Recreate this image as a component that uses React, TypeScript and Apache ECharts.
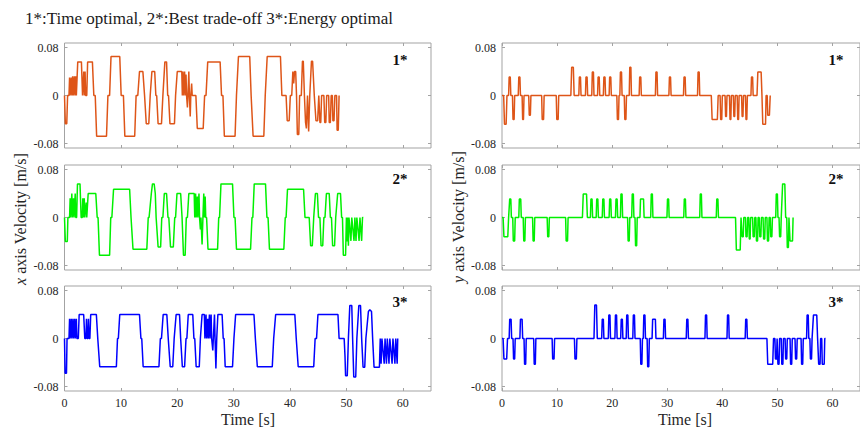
import React, { useEffect, useRef } from "react";
import * as echarts from "echarts";

// ---- data (time [s], velocity [m/s]) ----
const xTimeOptimal: number[][] = [
  [0,0],[0.15,-0.047],[0.4,-0.047],[0.55,0],[0.8,0],[0.9,0.03],[1.0,0],[1.2,0.03],[1.3,0],[1.45,0.032],[1.55,0],[1.75,0.032],[1.85,0],[2.0,0.032],[2.1,0],[2.2,0],[2.35,0.056],[3.0,0.056],[3.2,0],[3.3,0],[3.42,0.04],[3.52,0],[3.65,0.04],[3.75,0],[3.95,0],[4.1,0.056],[4.95,0.056],[5.2,0],[5.45,0],[5.7,-0.068],[7.45,-0.068],[7.7,0],[8.0,0],[8.25,0.065],[9.8,0.065],[10.05,0],[10.45,0],[10.7,-0.068],[12.45,-0.068],[12.7,0],[13.0,0],[13.3,0.04],[13.9,0.04],[14.2,0],[14.3,0],[14.5,-0.047],[14.95,-0.047],[15.2,0],[15.3,0],[15.5,0.04],[16.0,0.04],[16.2,0],[16.35,0],[16.6,-0.047],[17.2,-0.047],[17.45,0],[17.55,0],[17.8,0.056],[18.1,0.056],[18.3,0],[18.45,0],[18.7,-0.047],[19.5,-0.047],[19.7,0],[19.8,0],[20.0,0.04],[20.8,0.04],[20.9,0],[21.0,0.04],[21.1,0],[21.3,0.04],[21.4,0],[21.55,0.035],[21.65,0],[21.8,-0.02],[21.9,0],[22.05,0.04],[22.15,0],[22.3,-0.035],[22.4,0],[22.55,0.02],[22.65,0],[23.3,0],[23.55,-0.055],[24.6,-0.055],[24.85,0],[25.1,0],[25.4,0.056],[27.6,0.056],[27.85,0],[28.1,0],[28.35,-0.068],[30.25,-0.068],[30.5,0],[30.6,0],[30.85,0.065],[32.85,0.065],[33.1,0],[33.2,0],[33.45,-0.068],[35.35,-0.068],[35.6,0],[35.7,0],[35.95,0.065],[38.3,0.065],[38.55,0],[39.3,0],[39.5,-0.042],[39.85,-0.042],[40.05,0],[40.3,0],[40.5,0.04],[40.65,0.02],[40.8,0.04],[41.0,0.04],[41.15,0],[41.3,-0.065],[41.55,-0.065],[41.7,0],[42.0,0],[42.2,0.057],[42.35,0.057],[42.55,0],[42.75,-0.045],[42.9,-0.055],[43.1,0],[43.3,-0.06],[43.5,0],[43.8,0.057],[44.0,0.057],[44.3,0],[44.6,-0.042],[44.9,-0.042],[45.1,0],[45.3,-0.045],[45.45,-0.045],[45.6,0],[46.0,0],[46.15,-0.045],[46.35,-0.045],[46.5,0],[46.85,0],[46.95,-0.045],[47.15,-0.045],[47.3,0],[47.5,0],[47.6,-0.042],[47.8,-0.042],[47.95,0],[48.25,0],[48.35,-0.058],[48.55,-0.058],[48.7,0]
];
const xTradeOff: number[][] = [
  [0,0],[0.15,-0.04],[0.5,-0.04],[0.6,0],[0.9,0],[1.0,0.032],[1.1,0],[1.3,0.04],[1.4,0],[1.6,0.032],[1.7,0],[1.9,0.04],[2.0,0],[2.15,0],[2.3,0.056],[2.75,0.056],[2.95,0],[3.15,0],[3.25,0.032],[3.35,0],[3.5,0.032],[3.6,0],[3.85,0.025],[3.95,0],[4.05,0],[4.2,0.04],[5.55,0.04],[5.8,0],[5.95,0],[6.2,-0.063],[8.0,-0.063],[8.2,0],[8.4,0],[8.7,0.047],[11.55,0.047],[11.8,0],[11.9,0],[12.15,-0.053],[14.6,-0.053],[14.85,0],[15.0,0],[15.4,0.04],[15.6,0.056],[15.9,0.056],[16.1,0.04],[16.25,0],[16.35,0],[16.6,-0.049],[17.05,-0.049],[17.25,0],[17.45,0],[17.7,0.04],[18.1,0.04],[18.35,0],[18.5,0],[18.8,-0.049],[19.3,-0.049],[19.55,0],[19.7,0],[19.95,0.04],[20.6,0.04],[20.85,0],[20.9,0],[21.1,-0.063],[21.4,-0.063],[21.6,0],[21.8,0],[22.05,0.04],[23.0,0.04],[23.1,0],[23.25,0.04],[23.35,0],[23.55,0.035],[23.65,0],[23.85,0.04],[23.95,0],[24.1,-0.02],[24.2,0],[24.4,-0.045],[24.55,0],[24.7,0.04],[24.8,0],[24.95,0.035],[25.05,0],[25.2,0],[25.45,-0.053],[27.15,-0.053],[27.35,0],[27.5,0],[27.75,0.056],[29.8,0.056],[30.05,0],[30.25,0],[30.5,-0.053],[33.0,-0.053],[33.25,0],[33.4,0],[33.65,0.056],[35.65,0.056],[35.9,0],[36.1,0],[36.35,-0.053],[38.9,-0.053],[39.15,0],[39.3,0],[39.55,0.047],[42.4,0.047],[42.65,0],[43.4,0],[43.65,-0.047],[43.95,-0.047],[44.2,0],[44.3,0],[44.5,0.04],[44.85,0.04],[45.05,0],[45.3,0],[45.5,-0.047],[45.8,-0.047],[46.0,0],[46.2,0],[46.45,0.04],[46.95,0.04],[47.15,0],[47.35,0],[47.55,-0.047],[47.9,-0.047],[48.1,0],[48.2,0],[48.45,0.04],[48.95,0.04],[49.15,0],[49.3,0],[49.45,-0.063],[49.85,-0.063],[50.0,0],[50.1,-0.04],[50.2,0],[50.35,-0.047],[50.45,0],[50.8,-0.039],[50.95,0],[51.35,-0.039],[51.5,0],[51.7,-0.039],[51.85,0],[52.25,-0.039],[52.4,0],[52.7,-0.039],[52.85,0],[53.0,0]
];
const xEnergyOptimal: number[][] = [
  [0,0],[0.1,-0.058],[0.35,-0.058],[0.45,0],[0.8,0],[0.9,0.033],[1.0,0],[1.2,0.033],[1.3,0],[1.5,0.033],[1.6,0],[1.8,0.033],[1.9,0],[2.1,0.033],[2.2,0],[2.45,0],[2.6,0.04],[3.4,0.04],[3.6,0],[3.8,0],[3.9,0.033],[4.0,0],[4.15,0],[4.25,0.033],[4.35,0],[4.5,0],[4.65,0.04],[5.65,0.04],[5.9,0],[6.0,0],[6.25,-0.047],[9.2,-0.047],[9.4,0],[9.55,0],[9.8,0.04],[13.3,0.04],[13.55,0],[13.7,0],[13.95,-0.047],[16.75,-0.047],[17.0,0],[17.2,0],[17.5,0.04],[18.15,0.04],[18.4,0],[18.5,0],[18.75,-0.047],[19.2,-0.047],[19.45,0],[19.55,0],[19.8,0.04],[20.4,0.04],[20.6,0],[20.7,0],[20.9,-0.047],[21.3,-0.047],[21.55,0],[21.7,0],[21.95,0.04],[22.75,0.04],[22.95,0],[23.1,0],[23.35,-0.047],[23.9,-0.047],[24.1,0],[24.2,0],[24.4,0.04],[24.8,0.04],[24.9,0],[25.1,0.04],[25.2,0],[25.4,0.033],[25.5,0],[25.7,0.04],[25.8,0],[26.0,0.04],[26.1,0],[26.3,-0.02],[26.4,0],[26.6,0.04],[26.7,0],[26.85,-0.05],[27.0,0],[27.2,0.04],[27.95,0.04],[28.15,0],[28.3,0],[28.5,-0.047],[29.8,-0.047],[30.05,0],[30.1,0],[30.35,0.04],[33.6,0.04],[33.85,0],[33.95,0],[34.2,-0.047],[36.85,-0.047],[37.1,0],[37.2,0],[37.45,0.04],[40.85,0.04],[41.1,0],[41.2,0],[41.45,-0.047],[44.2,-0.047],[44.45,0],[44.7,0],[44.95,0.04],[48.5,0.04],[48.7,0],[49.6,0],[49.75,-0.03],[49.85,-0.062],[50.15,-0.062],[50.35,0],[50.6,0.055],[50.95,0.055],[51.1,0],[51.3,-0.064],[51.65,-0.064],[51.85,0],[52.2,0.055],[52.5,0.055],[52.7,0],[52.95,-0.048],[53.25,-0.048],[53.45,0],[53.9,0.045],[54.15,0.048],[54.45,0.045],[54.65,0],[54.9,-0.048],[55.85,-0.048],[56.0,0],[56.15,-0.042],[56.3,0],[56.7,-0.042],[56.85,0],[57.1,-0.042],[57.25,0],[57.55,-0.042],[57.7,0],[58.1,-0.042],[58.25,0],[58.6,-0.042],[58.75,0],[59.0,-0.042],[59.1,0]
];
const yTimeOptimal: number[][] = [
  [0,0],[0.3,0],[0.45,-0.048],[0.75,-0.048],[0.9,0],[1.2,0],[1.3,0.031],[1.5,0.031],[1.6,0],[1.9,0],[2.0,-0.04],[2.2,-0.04],[2.3,0],[2.95,0],[3.05,0.031],[3.25,0.031],[3.35,0],[3.65,0],[3.75,-0.04],[3.9,-0.04],[4.0,0],[4.85,0],[4.95,-0.033],[5.15,-0.033],[5.25,0],[7.2,0],[7.3,-0.04],[7.55,-0.04],[7.65,0],[9.85,0],[9.95,-0.04],[10.2,-0.04],[10.3,0],[12.5,0],[12.65,0.047],[12.95,0.047],[13.1,0],[13.95,0],[14.05,0.031],[14.25,0.031],[14.35,0],[15.15,0],[15.25,0.031],[15.45,0.031],[15.55,0],[16.3,0],[16.4,0.039],[16.6,0.039],[16.7,0],[17.35,0],[17.45,0.031],[17.65,0.031],[17.75,0],[18.4,0],[18.5,0.031],[18.7,0.031],[18.8,0],[19.45,0],[19.55,0.031],[19.75,0.031],[19.85,0],[20.85,0],[20.95,-0.04],[21.15,-0.04],[21.25,0],[21.4,0],[21.5,0.039],[21.7,0.039],[21.8,0],[22.2,0],[22.3,-0.04],[22.5,-0.04],[22.6,0],[23.1,0],[23.2,0.047],[23.4,0.047],[23.5,0],[24.9,0],[25.0,0.031],[25.2,0.031],[25.3,0],[27.85,0],[27.95,0.039],[28.15,0.039],[28.25,0],[30.3,0],[30.4,0.031],[30.6,0.031],[30.7,0],[32.95,0],[33.05,0.031],[33.25,0.031],[33.35,0],[35.5,0],[35.6,0.039],[35.8,0.039],[35.9,0],[38.0,0],[38.15,-0.04],[39.1,-0.04],[39.25,0],[39.6,0],[39.7,-0.04],[39.9,-0.04],[40.0,0],[40.5,0],[40.6,-0.035],[40.75,-0.035],[40.85,0],[41.3,0],[41.4,-0.04],[41.55,-0.04],[41.65,0],[42.0,0],[42.1,-0.035],[42.25,-0.035],[42.35,0],[42.7,0],[42.8,-0.04],[42.95,-0.04],[43.05,0],[43.5,0],[43.6,-0.035],[43.75,-0.035],[43.85,0],[44.2,0],[44.3,-0.04],[44.45,-0.04],[44.55,0],[45.2,0],[45.3,0.031],[45.5,0.031],[45.6,0],[46.3,0],[46.45,0.039],[47.05,0.039],[47.2,0],[47.35,-0.048],[47.85,-0.048],[47.95,0],[48.15,0],[48.25,-0.033],[48.55,-0.033],[48.7,0]
];
const yTradeOff: number[][] = [
  [0,0],[0.2,0],[0.35,-0.032],[1.05,-0.032],[1.2,0],[1.3,0],[1.4,0.031],[1.6,0.031],[1.7,0],[1.95,0],[2.05,-0.039],[2.3,-0.039],[2.4,0],[3.05,0],[3.15,0.031],[3.4,0.031],[3.5,0],[3.85,0],[3.95,-0.039],[4.15,-0.039],[4.25,0],[5.55,0],[5.65,-0.039],[5.85,-0.039],[5.95,0],[8.2,0],[8.3,-0.032],[8.5,-0.032],[8.6,0],[11.55,0],[11.65,-0.039],[11.9,-0.039],[12.0,0],[14.6,0],[14.75,0.039],[15.35,0.039],[15.5,0],[16.05,0],[16.15,0.031],[16.35,0.031],[16.45,0],[17.1,0],[17.2,0.031],[17.4,0.031],[17.5,0],[18.2,0],[18.3,0.031],[18.5,0.031],[18.6,0],[19.45,0],[19.55,0.031],[19.75,0.031],[19.85,0],[20.6,0],[20.7,0.031],[20.9,0.031],[21.0,0],[21.5,0],[21.6,0.039],[21.8,0.039],[21.9,0],[22.8,0],[22.9,-0.039],[23.1,-0.039],[23.2,0],[23.55,0],[23.65,0.039],[23.85,0.039],[23.95,0],[24.15,0],[24.25,-0.047],[24.45,-0.047],[24.55,0],[25.05,0],[25.15,0.031],[25.7,0.031],[25.8,0],[27.0,0],[27.1,0.039],[27.3,0.039],[27.4,0],[29.95,0],[30.05,0.031],[30.25,0.031],[30.35,0],[33.0,0],[33.1,0.031],[33.3,0.031],[33.4,0],[35.9,0],[36.0,0.039],[36.2,0.039],[36.3,0],[38.9,0],[39.0,0.031],[39.2,0.031],[39.3,0],[42.4,0],[42.55,-0.054],[43.25,-0.054],[43.4,0],[43.5,0],[43.6,-0.032],[43.8,-0.032],[43.9,0],[44.2,0],[44.3,-0.032],[44.5,-0.032],[44.6,0],[44.8,0],[44.9,-0.036],[45.05,-0.036],[45.15,0],[45.5,0],[45.6,-0.032],[45.8,-0.032],[45.9,0],[46.1,0],[46.2,-0.039],[46.4,-0.039],[46.5,0],[46.7,0],[46.8,-0.032],[47.0,-0.032],[47.1,0],[47.4,0],[47.5,-0.036],[47.7,-0.036],[47.8,0],[48.1,0],[48.2,-0.039],[48.4,-0.039],[48.5,0],[48.7,0],[48.8,-0.032],[49.0,-0.032],[49.1,0],[49.7,0],[49.8,0.039],[50.0,0.039],[50.1,0],[50.3,0],[50.4,-0.032],[50.6,-0.032],[50.7,0],[50.8,0],[50.95,0.056],[51.35,0.056],[51.5,0],[51.7,0],[51.8,-0.05],[52.0,-0.05],[52.1,0],[52.2,0],[52.3,-0.039],[52.75,-0.039],[52.85,0]
];
const yEnergyOptimal: number[][] = [
  [0,0],[0.2,0],[0.35,-0.034],[0.85,-0.034],[1.0,0],[1.3,0],[1.4,0.032],[1.65,0.032],[1.75,0],[2.0,0],[2.1,-0.034],[2.3,-0.034],[2.4,0],[3.25,0],[3.35,0.032],[3.65,0.032],[3.75,0],[4.0,0],[4.1,-0.043],[4.3,-0.043],[4.4,0],[5.75,0],[5.85,-0.043],[6.05,-0.043],[6.15,0],[9.1,0],[9.2,-0.034],[9.45,-0.034],[9.55,0],[13.15,0],[13.25,-0.034],[13.5,-0.034],[13.6,0],[16.7,0],[16.85,0.056],[17.15,0.056],[17.3,0],[18.1,0],[18.2,0.032],[18.4,0.032],[18.5,0],[19.3,0],[19.4,0.039],[19.6,0.039],[19.7,0],[20.5,0],[20.6,0.039],[20.8,0.039],[20.9,0],[21.55,0],[21.65,0.032],[21.85,0.032],[21.95,0],[22.55,0],[22.65,0.039],[22.85,0.039],[22.95,0],[23.75,0],[23.85,0.039],[24.05,0.039],[24.15,0],[25.1,0],[25.2,-0.043],[25.4,-0.043],[25.5,0],[25.65,0],[25.75,0.039],[25.95,0.039],[26.05,0],[26.35,0],[26.45,-0.047],[26.65,-0.047],[26.75,0],[27.25,0],[27.35,0.032],[27.85,0.032],[27.95,0],[29.3,0],[29.4,0.032],[29.6,0.032],[29.7,0],[33.45,0],[33.55,0.032],[33.75,0.032],[33.85,0],[36.85,0],[36.95,0.039],[37.15,0.039],[37.25,0],[40.85,0],[40.95,0.039],[41.15,0.039],[41.25,0],[44.15,0],[44.25,0.032],[44.45,0.032],[44.55,0],[48.1,0],[48.25,-0.043],[49.15,-0.043],[49.3,0],[49.55,0],[49.65,-0.034],[49.85,-0.034],[49.95,0],[50.0,0],[50.1,-0.043],[50.3,-0.043],[50.4,0],[50.7,0],[50.8,-0.043],[51.0,-0.043],[51.1,0],[51.4,0],[51.5,-0.034],[51.7,-0.034],[51.8,0],[52.3,0],[52.4,-0.043],[52.6,-0.043],[52.7,0],[53.2,0],[53.3,-0.034],[53.5,-0.034],[53.6,0],[54.3,0],[54.4,-0.043],[54.6,-0.043],[54.7,0],[55.3,0],[55.4,0.039],[55.6,0.039],[55.7,0],[55.9,0],[56.0,-0.034],[56.2,-0.034],[56.3,0],[56.4,0],[56.55,0.039],[57.15,0.039],[57.3,0],[57.5,-0.043],[57.75,-0.043],[57.85,0],[58.05,0],[58.15,-0.043],[58.5,-0.043],[58.6,0],[58.75,0]
];

const xTickValues = [0, 10, 20, 30, 40, 50, 60];
const yTickValues = [-0.08, 0, 0.08];
const panelTags = ["1*", "2*", "3*"];
const titleText = "1*:Time optimal, 2*:Best trade-off 3*:Energy optimal";

const panelData = [
  xTimeOptimal, yTimeOptimal,
  xTradeOff, yTradeOff,
  xEnergyOptimal, yEnergyOptimal,
];
const panelColors = ["#DE5518", "#DE5518", "#00F000", "#00F000", "#0000FF", "#0000FF"];

export default function App() {
  const ref = useRef<HTMLDivElement>(null);
  useEffect(() => {
    if (!ref.current) return;
    const chart = echarts.init(ref.current, undefined, { renderer: "svg" });
    const tops = [43, 165, 286];
    const H = 105;
    const cols = [{ left: 64.5, width: 366.5 }, { left: 502, width: 367 }];
    const FRAME = "#a3a3a3";
    const FONT = "Liberation Serif";
    const grids: any[] = [];
    const xAxes: any[] = [];
    const yAxes: any[] = [];
    const series: any[] = [];
    for (let row = 0; row < 3; row++) {
      for (let col = 0; col < 2; col++) {
        const p = row * 2 + col;
        grids.push({
          left: cols[col].left, width: cols[col].width, top: tops[row], height: H,
          show: true, borderColor: FRAME, borderWidth: 1, backgroundColor: "#fff",
        });
        const common = {
          type: "value", gridIndex: p, min: 0, max: 65,
          axisLine: { show: false, onZero: false },
          splitLine: { show: false },
        };
        xAxes.push({
          ...common, position: "bottom",
          axisTick: { show: true, inside: true, length: 3, lineStyle: { color: FRAME }, customValues: xTickValues },
          axisLabel: {
            show: row === 2, customValues: xTickValues, fontFamily: FONT, fontSize: 12,
            color: "#262626", margin: 6,
          },
        });
        xAxes.push({
          ...common, position: "top",
          axisTick: { show: true, inside: true, length: 3, lineStyle: { color: FRAME }, customValues: xTickValues },
          axisLabel: { show: false },
        });
        const ycommon = {
          type: "value", gridIndex: p, min: -0.0875, max: 0.0875,
          axisLine: { show: false, onZero: false }, splitLine: { show: false },
        };
        yAxes.push({
          ...ycommon, position: "left",
          axisTick: { show: true, inside: true, length: 3, lineStyle: { color: FRAME }, customValues: yTickValues },
          axisLabel: {
            show: true, customValues: yTickValues, fontFamily: FONT, fontSize: 12, color: "#262626", margin: 6,
            formatter: (v: number) => (Math.abs(v) < 1e-9 ? "0" : v.toFixed(2)),
          },
        });
        yAxes.push({
          ...ycommon, position: "right",
          axisTick: { show: true, inside: true, length: 3, lineStyle: { color: FRAME }, customValues: yTickValues },
          axisLabel: { show: false },
        });
        series.push({
          type: "line", xAxisIndex: p * 2, yAxisIndex: p * 2, data: panelData[p],
          showSymbol: false, symbol: "none", clip: true,
          lineStyle: { width: 1.5, color: panelColors[p] }, itemStyle: { color: panelColors[p] },
        });
      }
    }
    const centered = { align: "center", textAlign: "center", verticalAlign: "middle", textVerticalAlign: "middle" };
    const graphic: any[] = [
      {
        type: "text", x: 25, y: 18,
        style: { text: titleText, fontFamily: FONT, fontSize: 17, fill: "#1a1a1a", verticalAlign: "middle", textVerticalAlign: "middle" },
      },
      {
        type: "text", x: 20, y: 219, rotation: Math.PI / 2,
        style: {
          text: "{i|x} axis Velocity [m/s]", fontFamily: FONT, fontSize: 16, fill: "#262626", ...centered,
          rich: { i: { fontStyle: "italic", fontFamily: FONT, fontSize: 16, fill: "#262626" } },
        },
      },
      {
        type: "text", x: 458, y: 217, rotation: Math.PI / 2,
        style: {
          text: "{i|y} axis Velocity [m/s]", fontFamily: FONT, fontSize: 16, fill: "#262626", ...centered,
          rich: { i: { fontStyle: "italic", fontFamily: FONT, fontSize: 16, fill: "#262626" } },
        },
      },
      {
        type: "text", x: 248, y: 419,
        style: { text: "Time [s]", fontFamily: FONT, fontSize: 16, fill: "#262626", ...centered },
      },
      {
        type: "text", x: 685, y: 419,
        style: { text: "Time [s]", fontFamily: FONT, fontSize: 16, fill: "#262626", ...centered },
      },
    ];
    const tagX = [400, 836];
    const tagY = [60, 179, 302];
    for (let row = 0; row < 3; row++) {
      for (let col = 0; col < 2; col++) {
        graphic.push({
          type: "text", x: tagX[col], y: tagY[row],
          style: {
            text: panelTags[row], fontFamily: FONT, fontWeight: "bold", fontSize: 15, fill: "#111", ...centered,
          },
        });
      }
    }
    chart.setOption({
      animation: false,
      grid: grids,
      xAxis: xAxes,
      yAxis: yAxes,
      series,
      graphic,
    });
    return () => chart.dispose();
  }, []);
  return (
    <div
      ref={ref}
      style={{ position: "fixed", left: 0, top: 0, width: 860, height: 428, background: "#fff" }}
    />
  );
}
